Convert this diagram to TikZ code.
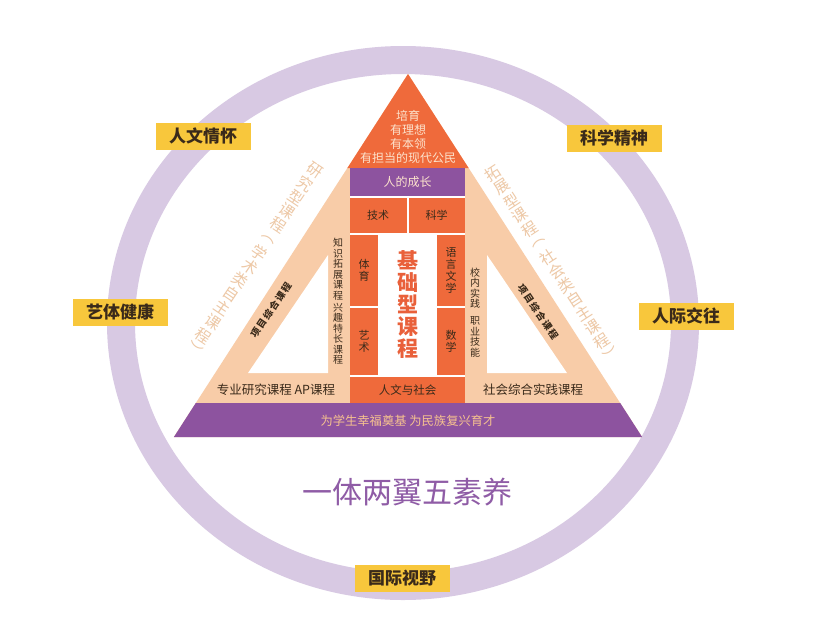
\documentclass[tikz,border=0pt]{standalone}
\usepackage{fontspec}
\setmainfont{Noto Sans CJK SC}
\definecolor{ringc}{HTML}{D8C9E3}
\definecolor{ylw}{HTML}{F8C73C}
\definecolor{org}{HTML}{EF6A3B}
\definecolor{pur}{HTML}{8D539F}
\definecolor{pch}{HTML}{F8CCA8}
\definecolor{tanc}{HTML}{EDC8A6}
\definecolor{darkc}{HTML}{3A2A1A}
\definecolor{ltc}{HTML}{FCE2CC}
\definecolor{basered}{HTML}{E9603A}
\definecolor{titlepur}{HTML}{8F5CA6}
\definecolor{basetxt}{HTML}{F6C28F}
\begin{document}
\begin{tikzpicture}[x=1pt,y=-1pt,
  tag/.style={fill=ylw, minimum width=95pt, minimum height=27pt, inner sep=0pt,
    font=\fontsize{17}{17}\selectfont\bfseries, text=darkc},
  celltxt/.style={font=\fontsize{11}{12}\selectfont, text=darkc, inner sep=0pt, align=center},
  coltxt/.style={font=\fontsize{10}{10.5}\selectfont, text=darkc, inner sep=0pt, align=center},
  wingtxt/.style={font=\fontsize{15.5}{16}\selectfont, text=tanc, inner sep=0pt},
  diagtxt/.style={font=\fontsize{9.5}{10}\selectfont\bfseries, text=darkc, inner sep=0pt},
  rowtxt/.style={font=\fontsize{12.5}{13}\selectfont, text=darkc, inner sep=0pt}]
\useasboundingbox[fill=white] (0,0) rectangle (834,627);
% ring
\draw[ringc, line width=28pt] (403,323) ellipse [x radius=282, y radius=263];
% labels
\node[tag] (l1) at (203,136) {人文情怀};
\node[tag] (l2) at (614,138) {科学精神};
\node[tag] (l3) at (120,312) {艺体健康};
\node[tag] (l4) at (686,316) {人际交往};
\node[tag] (l5) at (402,578) {国际视野};
% big triangle (peach)
\fill[pch] (408,74) -- (173.9,437) -- (642.1,437) -- cycle;
% white inner triangles
\fill[white] (328,255) -- (248,373) -- (328,373) -- cycle;
\fill[white] (487,255) -- (487,373) -- (567,373) -- cycle;
% orange apex
\fill[org] (408,74) -- (347.4,168) -- (468.6,168) -- cycle;
% purple base band
\fill[pur] (195.8,403) -- (620.2,403) -- (642.1,437) -- (173.9,437) -- cycle;
% central column
\fill[white] (350,168) rectangle (465,403);
\fill[pur] (350,168) rectangle (465,196);
\fill[org] (350,198) rectangle (406.5,233);
\fill[org] (408.5,198) rectangle (465,233);
\fill[org] (350,235) rectangle (378,305.5);
\fill[org] (350,307.5) rectangle (378,375);
\fill[org] (437,235) rectangle (465,305.5);
\fill[org] (437,307.5) rectangle (465,375);
\fill[org] (350,377) rectangle (465,403);
% texts in apex and column
\node[align=center, inner sep=0pt, font=\fontsize{12}{14}\selectfont, text=ltc] (goal) at (408,137) {培育\\有理想\\有本领\\有担当的现代公民};
\node[inner sep=0pt, font=\fontsize{12}{12}\selectfont, text=ltc] (grow) at (407.5,182) {人的成长};
\node[celltxt] (c1) at (378,215.5) {技术};
\node[celltxt] (c2) at (436.5,215.5) {科学};
\node[celltxt] (c3) at (364,270) {体\\育};
\node[celltxt] (c4) at (364,341) {艺\\术};
\node[celltxt] (c5) at (451,270) {语\\言\\文\\学};
\node[celltxt] (c6) at (451,341) {数\\学};
\node[celltxt, font=\fontsize{11.5}{12}\selectfont] (c7) at (407.5,390) {人文与社会};
\node[align=center, inner sep=0pt, font=\fontsize{21}{22}\selectfont\bfseries, text=basered] (core) at (407.5,305) {基\\础\\型\\课\\程};
% side columns
\node[coltxt] (k1) at (338,269) {知\\识\\拓\\展\\课\\程};
\node[coltxt] (k2) at (338,334) {兴\\趣\\特\\长\\课\\程};
\node[coltxt] (k3) at (475,288) {校\\内\\实\\践};
\node[coltxt] (k4) at (475,337) {职\\业\\技\\能};
% diagonal texts, one glyph per node
\foreach \ch [count=\i] in {项,目,综,合,课,程}
  \node[diagtxt, rotate=56] (d1\i) at ({255.6+6.15*(\i-1)},{332.8-9.12*(\i-1)}) {\ch};
\foreach \ch [count=\i] in {项,目,综,合,课,程}
  \node[diagtxt, rotate=-56] (d2\i) at ({522.6+6.15*(\i-1)},{289.2+9.12*(\i-1)}) {\ch};
% wing titles, one glyph per node
\foreach \ch [count=\i] in {研,究,型,课,程,︵,学,术,类,自,主,课,程,︶}
  \node[wingtxt, rotate=-34] (w1\i) at ({315-9.3*(\i-1)},{170+13.8*(\i-1)}) {\ch};
\foreach \ch [count=\i] in {拓,展,型,课,程,︵,社,会,类,自,主,课,程,︶}
  \node[wingtxt, rotate=33] (w2\i) at ({493+9.1*(\i-1)},{173+14.0*(\i-1)}) {\ch};
% bottom row texts
\node[rowtxt] (b1) at (276,390) {专业研究课程\ AP课程};
\node[rowtxt] (b2) at (533,390) {社会综合实践课程};
\node[inner sep=0pt, font=\fontsize{12.3}{13}\selectfont, text=basetxt] (b3) at (408,421) {为学生幸福奠基\ 为民族复兴育才};
% title
\node[inner sep=0pt, font=\fontsize{30}{30}\selectfont, text=titlepur] (title) at (407,492) {一体两翼五素养};
\end{tikzpicture}
\end{document}
